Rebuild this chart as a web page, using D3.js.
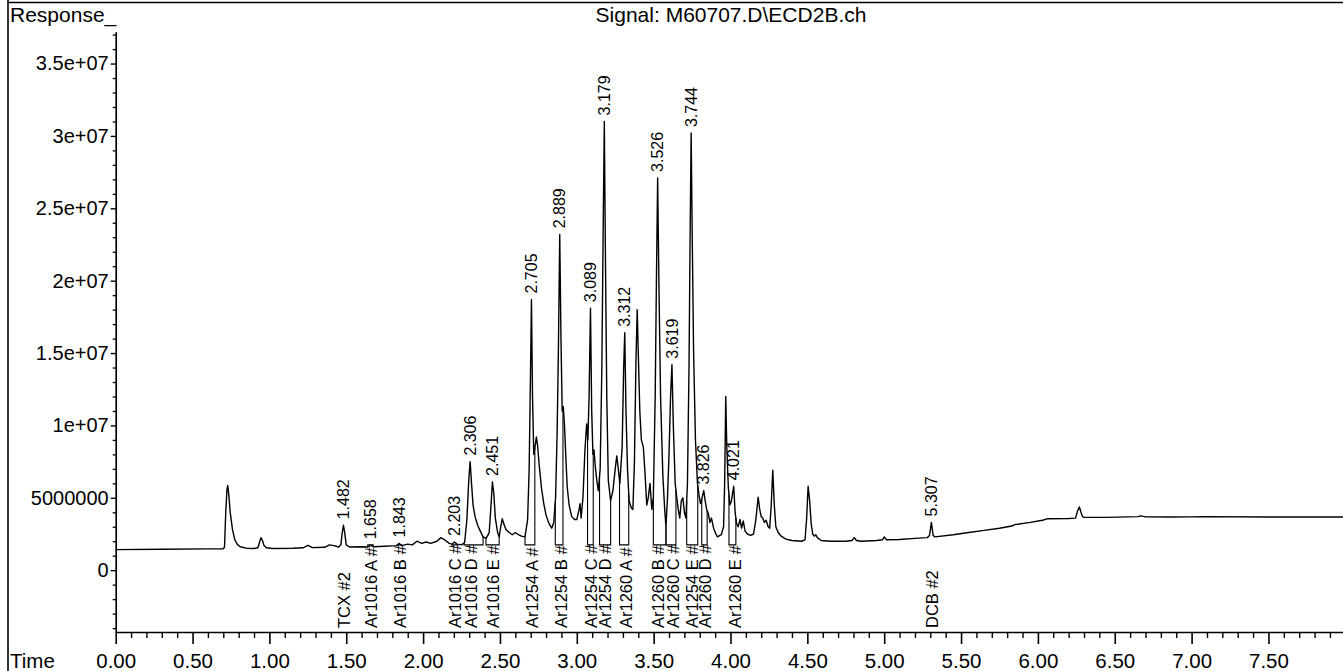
<!DOCTYPE html>
<html>
<head>
<meta charset="utf-8">
<script src="https://cdn.jsdelivr.net/npm/d3@7/dist/d3.min.js"></script>
<style>
  html, body { margin: 0; padding: 0; background: #fff; }
  svg { display: block; }
  text { font-family: "Liberation Sans", Arial, Helvetica, sans-serif; fill: #000; }
</style>
</head>
<body>
<svg id="chart" width="1343" height="671"></svg>
<script>
// ECD chromatogram, signal M60707.D\ECD2B.ch
// Response values are stored in millions of counts.

const titleText = "Signal: M60707.D\\ECD2B.ch";
const yAxisTitle = "Response_";
const xAxisTitle = "Time";

// Major axis ticks and their printed labels
const xTickValues = [0, 0.5, 1, 1.5, 2, 2.5, 3, 3.5, 4, 4.5, 5, 5.5, 6, 6.5, 7, 7.5];
const xTickLabels = ["0.00", "0.50", "1.00", "1.50", "2.00", "2.50", "3.00", "3.50",
                     "4.00", "4.50", "5.00", "5.50", "6.00", "6.50", "7.00", "7.50"];
const yTickValues = [0, 5, 10, 15, 20, 25, 30, 35];
const yTickLabels = ["0", "5000000", "1e+07", "1.5e+07", "2e+07", "2.5e+07", "3e+07", "3.5e+07"];

// Detector trace: [retention time (min), response (millions)]
const trace = [
  [0.00,1.42],[0.30,1.45],[0.60,1.47],[0.70,1.48],[0.708,1.6],[0.716,4.0],[0.724,5.6],[0.729,5.85],
  [0.735,5.3],[0.745,4.0],[0.76,2.8],[0.775,2.1],[0.79,1.8],[0.81,1.62],[0.85,1.52],[0.90,1.5],
  [0.925,1.55],[0.935,1.9],[0.945,2.25],[0.955,2.05],[0.965,1.7],[0.98,1.55],[1.02,1.5],[1.15,1.52],
  [1.22,1.55],[1.25,1.72],[1.28,1.56],[1.36,1.58],[1.39,1.75],[1.42,1.7],[1.45,1.6],[1.465,1.75],
  [1.474,2.6],[1.482,3.1],[1.49,2.6],[1.50,1.75],[1.52,1.6],[1.60,1.62],[1.64,1.6],[1.658,1.72],
  [1.68,1.62],[1.75,1.65],[1.80,1.68],[1.83,1.7],[1.843,1.85],[1.86,1.7],[1.90,1.8],[1.93,1.75],
  [1.96,2.0],[1.99,1.85],[2.02,1.95],[2.05,1.85],[2.09,2.0],[2.115,2.25],[2.14,2.1],[2.17,1.85],
  [2.19,1.8],[2.203,1.95],[2.22,1.8],[2.25,1.75],[2.27,1.9],[2.285,3.5],[2.297,6.2],[2.306,7.5],
  [2.315,6.0],[2.325,4.5],[2.338,3.7],[2.355,3.1],[2.37,2.75],[2.39,2.3],[2.41,2.2],[2.43,2.6],
  [2.442,4.5],[2.451,6.1],[2.46,5.3],[2.47,3.6],[2.485,2.6],[2.495,2.3],[2.505,3.0],[2.515,3.55],
  [2.525,3.2],[2.54,2.8],[2.56,2.6],[2.58,2.45],[2.60,2.6],[2.62,2.45],[2.64,2.35],[2.663,2.3],
  [2.68,3.5],[2.69,7.0],[2.698,13.0],[2.705,18.7],[2.712,12.0],[2.72,8.0],[2.728,8.5],[2.737,9.2],
  [2.745,8.6],[2.755,7.3],[2.77,5.7],[2.785,4.6],[2.80,3.8],[2.82,3.2],[2.837,2.9],[2.85,3.3],
  [2.862,5.0],[2.872,9.5],[2.88,15.0],[2.889,23.2],[2.897,16.0],[2.905,11.0],[2.912,11.3],[2.92,10.0],
  [2.93,7.5],[2.938,5.7],[2.95,4.5],[2.967,3.7],[2.985,3.5],[3.00,3.5],[3.015,4.2],[3.021,4.6],
  [3.028,3.6],[3.04,5.0],[3.053,8.3],[3.064,10.1],[3.072,9.0],[3.08,12.0],[3.089,18.1],[3.097,11.0],
  [3.105,8.0],[3.112,8.3],[3.12,7.2],[3.13,6.2],[3.14,5.5],[3.152,7.0],[3.163,14.0],[3.172,24.0],
  [3.179,31.0],[3.186,22.0],[3.195,12.0],[3.205,6.2],[3.22,4.8],[3.235,5.5],[3.25,7.0],[3.26,7.9],
  [3.27,7.0],[3.28,6.0],[3.295,8.5],[3.305,14.0],[3.312,16.4],[3.32,11.0],[3.33,7.0],[3.34,4.8],
  [3.355,4.3],[3.365,4.2],[3.375,7.5],[3.385,14.5],[3.393,18.0],[3.40,15.0],[3.41,11.0],[3.42,9.0],
  [3.433,8.5],[3.445,6.5],[3.455,4.5],[3.465,5.0],[3.476,6.0],[3.488,4.2],[3.498,5.0],[3.51,12.0],
  [3.518,20.0],[3.526,27.1],[3.534,20.0],[3.545,12.0],[3.56,6.5],[3.573,4.0],[3.58,3.0],[3.59,5.0],
  [3.60,8.0],[3.61,12.0],[3.619,14.2],[3.628,10.0],[3.64,6.0],[3.65,5.05],[3.66,4.2],[3.67,3.6],
  [3.68,4.8],[3.69,5.0],[3.70,4.0],[3.71,3.6],[3.72,6.0],[3.73,14.0],[3.738,24.0],[3.744,30.2],
  [3.75,24.0],[3.76,15.0],[3.772,9.0],[3.785,6.0],[3.795,5.2],[3.805,4.6],[3.815,5.0],[3.826,5.5],
  [3.835,4.8],[3.845,4.2],[3.856,3.9],[3.866,3.3],[3.876,3.6],[3.89,2.9],[3.905,2.5],[3.915,2.3],
  [3.94,2.45],[3.955,3.0],[3.962,6.0],[3.969,12.0],[3.976,8.5],[3.986,5.7],[3.996,4.5],[4.006,4.8],
  [4.021,5.8],[4.03,4.0],[4.04,3.2],[4.05,3.0],[4.062,3.5],[4.072,2.9],[4.083,3.4],[4.095,2.7],
  [4.11,2.5],[4.13,2.4],[4.15,2.5],[4.165,3.5],[4.18,5.05],[4.19,4.2],[4.20,3.7],[4.21,3.6],
  [4.22,3.3],[4.232,3.45],[4.245,3.0],[4.255,2.9],[4.265,4.5],[4.275,6.9],[4.285,4.5],[4.295,3.0],
  [4.31,2.6],[4.33,2.35],[4.36,2.15],[4.40,2.05],[4.46,2.0],[4.485,2.1],[4.495,3.5],[4.505,5.8],
  [4.515,4.8],[4.525,3.2],[4.535,2.5],[4.545,2.35],[4.555,2.45],[4.565,2.25],[4.59,2.05],[4.65,2.0],
  [4.75,2.0],[4.79,2.05],[4.805,2.25],[4.82,2.05],[4.85,2.0],[4.95,2.05],[4.99,2.1],[5.00,2.3],
  [5.015,2.1],[5.10,2.12],[5.20,2.2],[5.28,2.25],[5.295,2.4],[5.307,3.3],[5.318,2.4],[5.33,2.3],
  [5.45,2.45],[5.55,2.6],[5.65,2.75],[5.75,2.9],[5.83,3.05],[5.85,3.15],[5.95,3.3],[6.03,3.45],
  [6.06,3.55],[6.20,3.57],[6.245,3.6],[6.258,4.1],[6.27,4.37],[6.28,4.0],[6.29,3.7],[6.30,3.65],
  [6.45,3.65],[6.65,3.7],[6.67,3.75],[6.70,3.68],[6.85,3.67],[7.00,3.68],[7.07,3.7],[7.50,3.67],
  [8.00,3.67]
];

// Retention times printed above integrated peaks
const peakTimes = [1.482, 1.658, 1.843, 2.203, 2.306, 2.451, 2.705, 2.889, 3.089, 3.179,
                   3.312, 3.526, 3.619, 3.744, 3.826, 4.021, 5.307];

// Identified compounds along the bottom strip
const compoundNames = ["TCX #2", "Ar1016 A #", "Ar1016 B #", "Ar1016 C #", "Ar1016 D #", "Ar1016 E #",
                       "Ar1254 A #", "Ar1254 B #", "Ar1254 C #", "Ar1254 D #", "Ar1260 A #",
                       "Ar1260 B #", "Ar1260 C #", "Ar1254 E #", "Ar1260 D #", "Ar1260 E #", "DCB #2"];
const compoundTimes = [1.482, 1.658, 1.843, 2.203, 2.306, 2.451, 2.705, 2.889, 3.089, 3.179, 3.312,
                       3.526, 3.619, 3.744, 3.826, 4.021, 5.307];

// Integration windows [start, end] and their common baseline level
const integrationWindows = [
  [1.64, 1.675], [1.83, 1.86], [2.186, 2.225], [2.266, 2.39], [2.409, 2.495],
  [2.663, 2.727], [2.86, 2.91], [3.07, 3.107], [3.148, 3.22], [3.278, 3.338],
  [3.498, 3.58], [3.58, 3.645], [3.715, 3.787], [3.813, 3.848], [3.99, 4.035]
];
const integrationBase = 1.75;

const svg = d3.select("#chart");
const W = 1343, H = 671;

const x = d3.scaleLinear().domain([0, 8]).range([115.7, 1345.3]);
const y = d3.scaleLinear().domain([-4.27, 37.2]).range([632, 31.7]);

// Response lookup along the trace
const bis = d3.bisector(d => d[0]).left;
function respAt(t) {
  const i = bis(trace, t);
  if (i <= 0) return trace[0][1];
  if (i >= trace.length) return trace[trace.length - 1][1];
  const a = trace[i - 1], b = trace[i];
  return a[1] + (b[1] - a[1]) * (t - a[0]) / (b[0] - a[0]);
}

// Page frame
svg.append("line").attr("x1", 8).attr("x2", 8).attr("y1", 0).attr("y2", H)
  .attr("stroke", "#000").attr("stroke-width", 1.6);
svg.append("line").attr("x1", 8).attr("x2", W).attr("y1", 2.5).attr("y2", 2.5)
  .attr("stroke", "#000").attr("stroke-width", 1.6);

// Header texts
svg.append("text").attr("x", 10).attr("y", 22).attr("font-size", 21).text(yAxisTitle);
svg.append("text").attr("x", 731).attr("y", 22).attr("font-size", 21)
  .attr("text-anchor", "middle").text(titleText);

// X axis: minor ticks every 0.1 min, major ticks every 0.5 min
const xMinor = d3.range(0, 80).map(i => i / 10).filter(v => Math.abs(v * 2 - Math.round(v * 2)) > 1e-6);
svg.append("g").attr("transform", `translate(0,${y.range()[0]})`)
  .call(d3.axisBottom(x).tickValues(xMinor).tickSize(6).tickSizeOuter(0).tickFormat(""))
  .call(g => g.select(".domain").remove())
  .selectAll("line").attr("stroke-width", 1.4);
const gx = svg.append("g").attr("transform", `translate(0,${y.range()[0]})`)
  .call(d3.axisBottom(x).tickValues(xTickValues).tickSize(12).tickSizeOuter(0)
        .tickFormat((d, i) => xTickLabels[i]));
gx.select(".domain").attr("stroke-width", 1.7);
gx.selectAll(".tick line").attr("stroke-width", 1.6);
gx.selectAll(".tick text").attr("font-size", 20.5).attr("y", 36).attr("dy", 0)
  .attr("font-family", "Liberation Sans, Arial, sans-serif");

svg.append("text").attr("x", 10).attr("y", y.range()[0] + 36).attr("font-size", 20.5).text(xAxisTitle);

// Y axis: minor ticks every 1e6, labelled ticks every 5e6
const yMinor = d3.range(-4, 38).filter(v => v % 5 !== 0);
svg.append("g").attr("transform", `translate(${x.range()[0]},0)`)
  .call(d3.axisLeft(y).tickValues(yMinor).tickSize(3).tickSizeOuter(0).tickFormat(""))
  .call(g => g.select(".domain").remove())
  .selectAll("line").attr("stroke-width", 1.3);
const gy = svg.append("g").attr("transform", `translate(${x.range()[0]},0)`)
  .call(d3.axisLeft(y).tickValues(yTickValues).tickSize(5).tickSizeOuter(0).tickPadding(2)
        .tickFormat((d, i) => yTickLabels[i]));
gy.select(".domain").attr("stroke-width", 1.7);
gy.selectAll(".tick line").attr("stroke-width", 1.4);
gy.selectAll(".tick text").attr("font-size", 20)
  .attr("font-family", "Liberation Sans, Arial, sans-serif");

// Integration baselines with drop lines to the trace
const integ = svg.append("g").attr("fill", "none").attr("stroke", "#000").attr("stroke-width", 1.1);
integrationWindows.forEach(([s, e]) => {
  const yb = y(integrationBase);
  integ.append("path").attr("d",
    `M${x(s)},${y(respAt(s))}L${x(s)},${yb}L${x(e)},${yb}L${x(e)},${y(respAt(e))}`);
});

// Chromatogram trace
svg.append("path").datum(trace)
  .attr("fill", "none").attr("stroke", "#000").attr("stroke-width", 1.4)
  .attr("stroke-linejoin", "round")
  .attr("d", d3.line().x(d => x(d[0])).y(d => y(d[1])));

// Retention time labels above peaks
svg.append("g").selectAll("text").data(peakTimes).join("text")
  .attr("font-size", 16)
  .attr("transform", t => `translate(${x(t)},${y(respAt(t)) - 6}) rotate(-90)`)
  .attr("dy", "0.35em")
  .text(t => t.toFixed(3));

// Compound names along the bottom
svg.append("g").selectAll("text").data(compoundNames).join("text")
  .attr("font-size", 16.5)
  .attr("transform", (d, i) => `translate(${x(compoundTimes[i]) + 1},${y.range()[0] - 4}) rotate(-90)`)
  .attr("dy", "0.35em")
  .text(d => d);
</script>
</body>
</html>
